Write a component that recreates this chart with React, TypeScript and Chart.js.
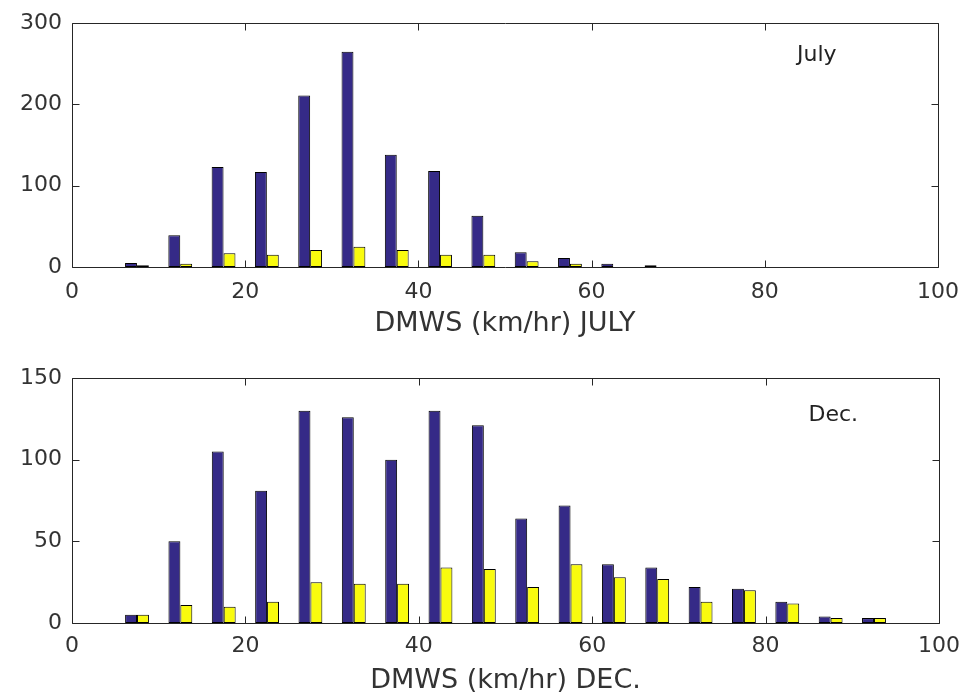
import React, { useEffect, useRef } from "react";
import { Chart, registerables } from "chart.js";

Chart.register(...registerables);

const binCenters = [2.5, 7.5, 12.5, 17.5, 22.5, 27.5, 32.5, 37.5, 42.5, 47.5, 52.5, 57.5, 62.5, 67.5, 72.5, 77.5, 82.5, 87.5, 92.5, 97.5];
const julyBlue = [0, 5, 39, 123, 117, 211, 265, 138, 118, 63, 18, 11, 4, 2, 0, 0, 0, 0, 0, 0];
const julyYellow = [0, 2, 4, 17, 15, 21, 25, 21, 15, 15, 7, 4, 0, 0, 0, 0, 0, 0, 0, 0];
const decBlue = [0, 5, 50, 105, 81, 130, 126, 100, 130, 121, 64, 72, 36, 34, 22, 21, 13, 4, 3, 0];
const decYellow = [0, 5, 11, 10, 13, 25, 24, 24, 34, 33, 22, 36, 28, 27, 13, 20, 12, 3, 3, 0];
const xTicks = [0, 20, 40, 60, 80, 100];
const julyYTicks = [0, 100, 200, 300];
const decYTicks = [0, 50, 100, 150];

const BLUE = "#352a87";
const YELLOW = "#f9fb0e";
const AXIS = "#262626";
const TEXT = "#333333";
const FONT = "'DejaVu Sans', sans-serif";

type Panel = {
  blue: number[];
  yellow: number[];
  yTicks: number[];
  title: string;
  note: string;
  noteX: number;
  noteY: number;
  padTop: number;
  xHeight: number;
  tickPad: number;
  titlePadBottom: number;
};

const framePlugin = {
  id: "matlabFrame",
  afterDraw(chart: any, _args: any, opts: any) {
    const { ctx, chartArea: a, scales } = chart;
    const L = Math.round(a.left) + 0.5;
    const R = Math.round(a.right) + 0.5;
    const T = Math.round(a.top) + 0.5;
    const B = Math.round(a.bottom) + 0.5;
    ctx.save();
    ctx.strokeStyle = AXIS;
    ctx.lineWidth = 1;
    ctx.beginPath();
    ctx.rect(L, T, R - L, B - T);
    const tl = 7;
    for (const v of opts.xTicks) {
      const x = Math.round(scales.x.getPixelForValue(v)) + 0.5;
      ctx.moveTo(x, B);
      ctx.lineTo(x, B - tl);
      ctx.moveTo(x, T);
      ctx.lineTo(x, T + tl);
    }
    for (const v of opts.yTicks) {
      const y = Math.round(scales.y.getPixelForValue(v)) + 0.5;
      ctx.moveTo(L, y);
      ctx.lineTo(L + tl, y);
      ctx.moveTo(R, y);
      ctx.lineTo(R - tl, y);
    }
    ctx.stroke();
    ctx.fillStyle = "#222222";
    ctx.font = `22px ${FONT}`;
    ctx.textAlign = "center";
    ctx.textBaseline = "middle";
    ctx.fillText(opts.note, scales.x.getPixelForValue(opts.noteX), scales.y.getPixelForValue(opts.noteY));
    ctx.restore();
  },
};

function makeChart(canvas: HTMLCanvasElement, p: Panel) {
  const yMax = p.yTicks[p.yTicks.length - 1];
  return new Chart(canvas, {
    type: "bar",
    data: {
      datasets: [
        {
          data: binCenters.map((x, i) => ({ x, y: p.blue[i] })),
          backgroundColor: BLUE,
          borderColor: "#000000",
          borderWidth: 1,
          borderSkipped: false,
        },
        {
          data: binCenters.map((x, i) => ({ x, y: p.yellow[i] })),
          backgroundColor: YELLOW,
          borderColor: "#000000",
          borderWidth: 1,
          borderSkipped: false,
        },
      ],
    },
    options: {
      animation: false,
      responsive: false,
      maintainAspectRatio: false,
      layout: { padding: { left: 0, right: 32, top: p.padTop, bottom: 0 } },
      datasets: { bar: { categoryPercentage: 0.55, barPercentage: 1 } },
      plugins: {
        legend: { display: false },
        tooltip: { enabled: false },
        matlabFrame: {
          xTicks,
          yTicks: p.yTicks,
          note: p.note,
          noteX: p.noteX,
          noteY: p.noteY,
        },
      } as any,
      scales: {
        x: {
          type: "linear",
          min: 0,
          max: 100,
          offset: false,
          grid: { display: false, drawTicks: false, offset: false },
          border: { display: false },
          afterBuildTicks: (s: any) => {
            s.ticks = xTicks.map((v) => ({ value: v }));
          },
          ticks: {
            color: TEXT,
            font: { family: FONT, size: 22 },
            padding: p.tickPad,
            maxRotation: 0,
            autoSkip: false,
          },
          title: {
            display: true,
            text: p.title,
            color: TEXT,
            font: { family: FONT, size: 27 },
            padding: { top: 0, bottom: p.titlePadBottom },
          },
          afterFit: (s: any) => {
            s.height = p.xHeight;
          },
        },
        y: {
          type: "linear",
          min: 0,
          max: yMax,
          grid: { display: false, drawTicks: false },
          border: { display: false },
          afterBuildTicks: (s: any) => {
            s.ticks = p.yTicks.map((v) => ({ value: v }));
          },
          ticks: {
            color: TEXT,
            font: { family: FONT, size: 22 },
            padding: 10,
          },
          afterFit: (s: any) => {
            s.width = 72;
          },
        },
      } as any,
    },
    plugins: [framePlugin],
  });
}

const julyPanel: Panel = {
  blue: julyBlue,
  yellow: julyYellow,
  yTicks: julyYTicks,
  title: "DMWS (km/hr) JULY",
  note: "July",
  noteX: 86,
  noteY: 261,
  padTop: 17,
  xHeight: 82,
  tickPad: 12,
  titlePadBottom: 9,
};

const decPanel: Panel = {
  blue: decBlue,
  yellow: decYellow,
  yTicks: decYTicks,
  title: "DMWS (km/hr) DEC.",
  note: "Dec.",
  noteX: 87.8,
  noteY: 127,
  padTop: 29,
  xHeight: 75,
  tickPad: 10,
  titlePadBottom: 1,
};

export default function App() {
  const topRef = useRef<HTMLCanvasElement>(null);
  const botRef = useRef<HTMLCanvasElement>(null);
  useEffect(() => {
    const c1 = makeChart(topRef.current!, julyPanel);
    const c2 = makeChart(botRef.current!, decPanel);
    return () => {
      c1.destroy();
      c2.destroy();
    };
  }, []);
  return (
    <div style={{ position: "absolute", left: 0, top: 0, width: 971, height: 698, background: "#ffffff" }}>
      <canvas ref={topRef} width={971} height={349} style={{ position: "absolute", left: 0, top: 0, width: 971, height: 349 }} />
      <canvas ref={botRef} width={971} height={349} style={{ position: "absolute", left: 0, top: 349, width: 971, height: 349 }} />
    </div>
  );
}
